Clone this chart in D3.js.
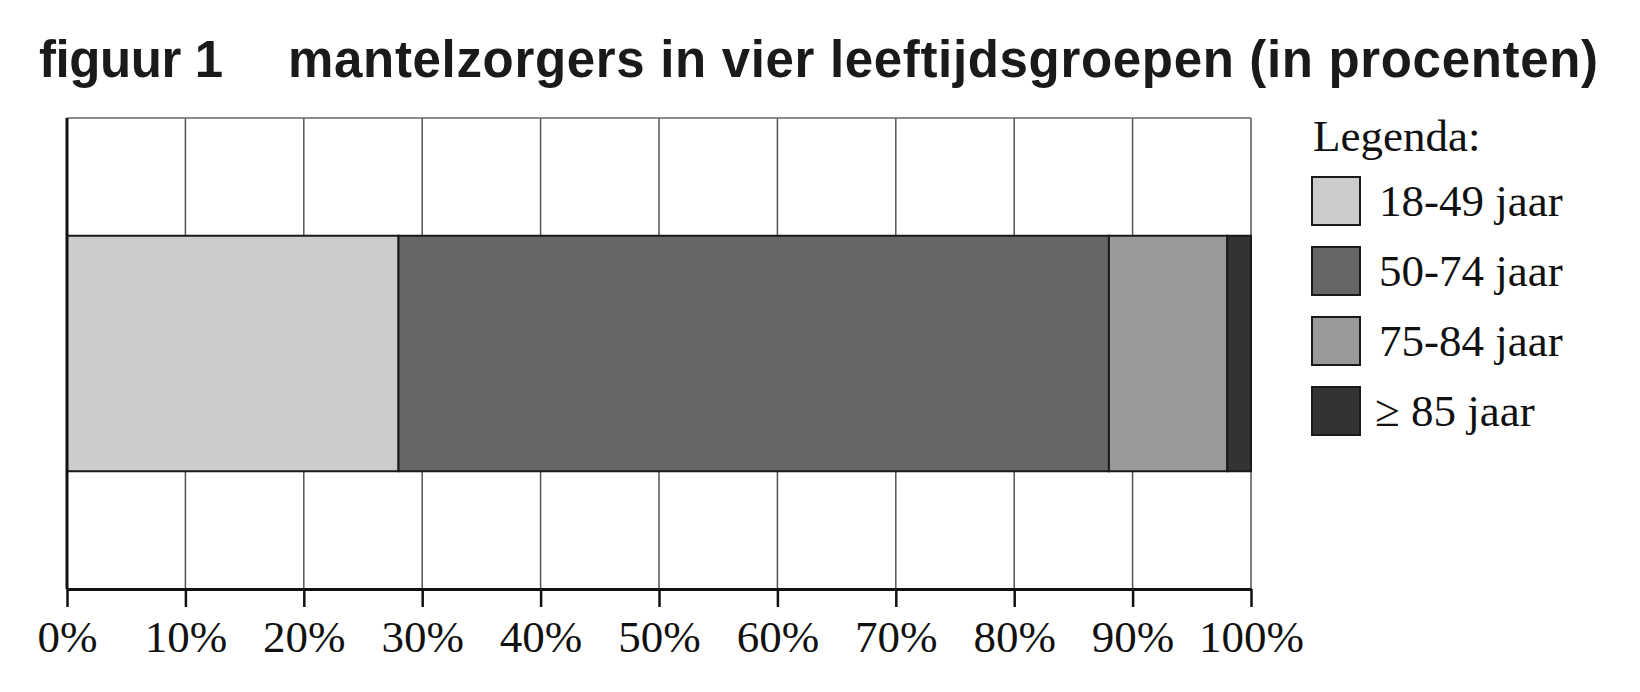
<!doctype html>
<head>
  <meta charset="utf-8">
  <script src="https://cdn.jsdelivr.net/npm/d3@7"></script>
</head>

<style type="text/css">
  body { margin: 0; background: #fff; }
  .title { font-family: 'Liberation Sans', Arial, Helvetica, sans-serif; font-weight: bold; font-size: 51px; fill: #1a1a1a; }
  .serif { font-family: 'Liberation Serif', 'Times New Roman', serif; font-size: 45px; fill: #111; }
</style>

<body>
<svg></svg>
<script>
// data
var groups = ["18-49 jaar", "50-74 jaar", "75-84 jaar", "\u2265 85 jaar"];
var shares = [28, 60, 10, 2];
var colours = ["#cccccc", "#666666", "#999999", "#333333"];
var tickValues = [0, 10, 20, 30, 40, 50, 60, 70, 80, 90, 100];
var rowName = ["mantelzorgers"];

var W = 1640, H = 692;
var svg = d3.select("svg").attr("width", W).attr("height", H);

// title
svg.append("text").classed("title", true)
  .attr("x", 39).attr("y", 77)
  .attr("textLength", 184).attr("lengthAdjust", "spacing")
  .text("figuur 1");
svg.append("text").classed("title", true)
  .attr("x", 288).attr("y", 77)
  .attr("textLength", 1310).attr("lengthAdjust", "spacing")
  .text("mantelzorgers in vier leeftijdsgroepen (in procenten)");

// scales
var plotLeft = 67, plotRight = 1251, plotTop = 118, plotBottom = 589;
var x = d3.scaleLinear().domain([0, 100]).range([plotLeft, plotRight]);
var y = d3.scaleBand().domain(rowName).range([plotTop, plotBottom])
  .paddingInner(0.5).paddingOuter(0.25);

// grid
var grid = svg.append("g");
grid.selectAll("line.v")
  .data(tickValues.slice(1))
  .enter().append("line")
  .attr("x1", d => x(d)).attr("x2", d => x(d))
  .attr("y1", plotTop).attr("y2", plotBottom)
  .style("stroke", "#555").style("stroke-width", 1.5);
grid.append("line")
  .attr("x1", x(0)).attr("x2", x(100))
  .attr("y1", plotTop).attr("y2", plotTop)
  .style("stroke", "#666").style("stroke-width", 1.5);

// stacked bar
var stack = [];
var acc = 0;
shares.forEach(function(v, i) {
  stack.push({key: groups[i], x0: acc, x1: acc + v, colour: colours[i]});
  acc += v;
});

svg.append("g").selectAll("rect")
  .data(stack)
  .enter().append("rect")
  .attr("x", d => x(d.x0))
  .attr("width", d => x(d.x1) - x(d.x0))
  .attr("y", y(rowName[0]))
  .attr("height", y.bandwidth())
  .style("fill", d => d.colour)
  .style("stroke", "#1a1a1a")
  .style("stroke-width", 2);

// left axis line
svg.append("line")
  .attr("x1", plotLeft).attr("x2", plotLeft)
  .attr("y1", plotTop).attr("y2", plotBottom)
  .style("stroke", "#111").style("stroke-width", 3);

// bottom axis
var axis = svg.append("g")
  .attr("transform", "translate(0," + plotBottom + ")")
  .call(d3.axisBottom(x).tickValues(tickValues)
    .tickFormat(d => d + "%").tickSize(18).tickSizeOuter(0));
axis.attr("font-size", null).attr("font-family", null);
axis.select(".domain").style("stroke", "#111").style("stroke-width", 3);
axis.selectAll(".tick line").style("stroke", "#111").style("stroke-width", 2.5);
axis.selectAll(".tick text")
  .attr("class", "serif")
  .attr("y", 31);

// legend
var lg = svg.append("g").attr("transform", "translate(1312,0)");
lg.append("text").classed("serif", true)
  .attr("x", 1).attr("y", 151)
  .text("Legenda:");

var items = lg.selectAll("g.item")
  .data(stack)
  .enter().append("g").classed("item", true)
  .attr("transform", (d, i) => "translate(0," + (177 + i * 70) + ")");
items.append("rect")
  .attr("width", 48).attr("height", 48)
  .style("fill", d => d.colour)
  .style("stroke", "#1a1a1a").style("stroke-width", 2);
items.append("text").classed("serif", true)
  .attr("x", (d, i) => i === 3 ? 63 : 67)
  .attr("y", 39)
  .text(d => d.key);
</script>
</body>
